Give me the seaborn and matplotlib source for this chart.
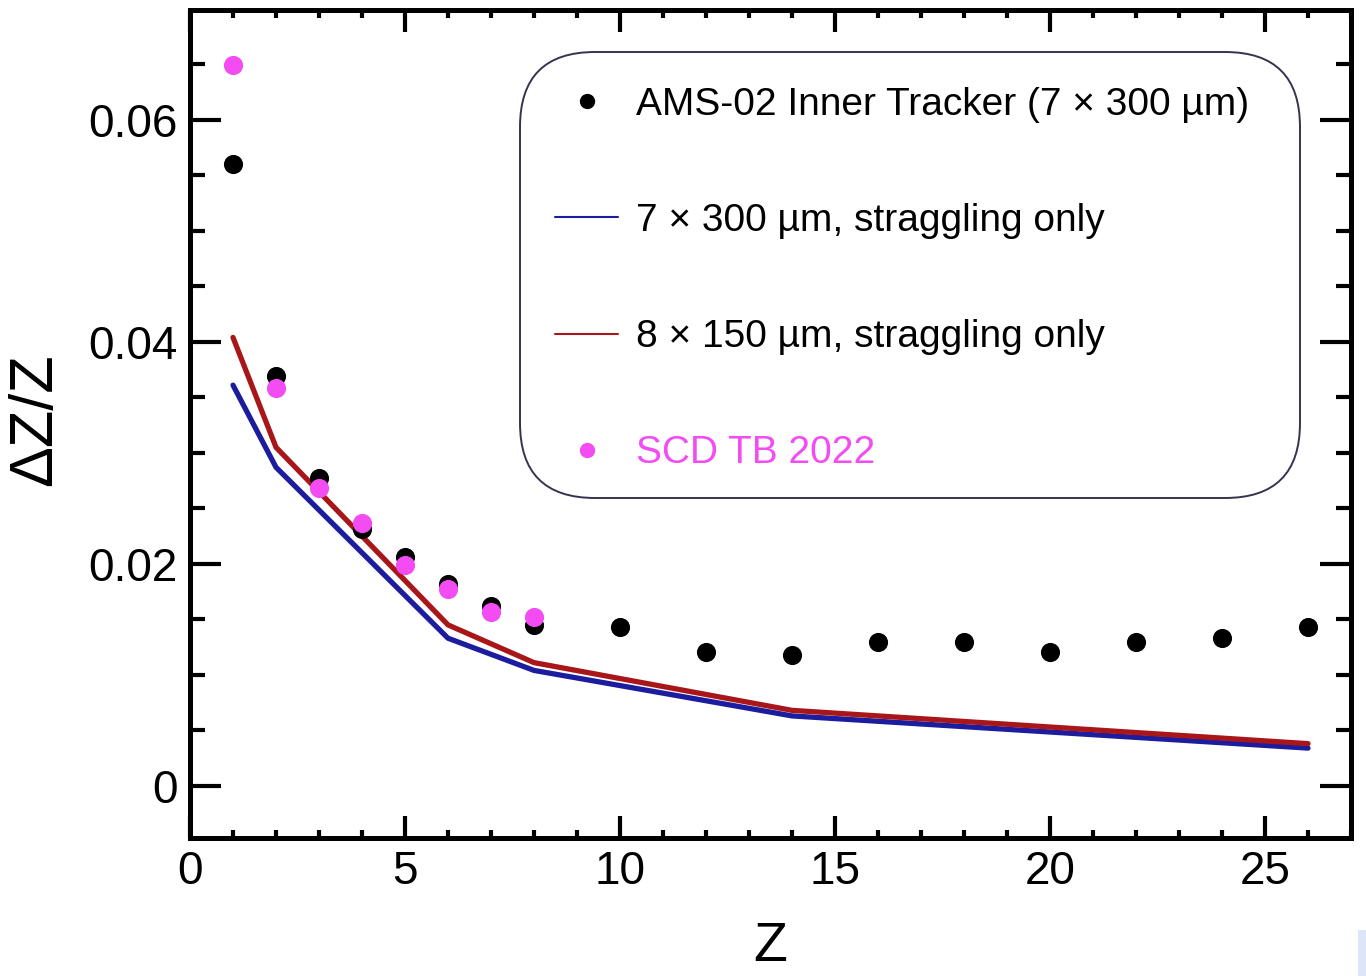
import numpy as np
import pandas as pd
import matplotlib
matplotlib.use("Agg")
import matplotlib.pyplot as plt
import seaborn as sns
from matplotlib.lines import Line2D
from matplotlib.patches import FancyBboxPatch, Rectangle
from matplotlib.transforms import IdentityTransform
from matplotlib.ticker import MultipleLocator, FuncFormatter

# ---- data ----
ams_z = [1, 2, 3, 4, 5, 6, 7, 8, 10, 12, 14, 16, 18, 20, 22, 24, 26]
ams_dz = [0.0560, 0.0369, 0.0277, 0.0231, 0.0206, 0.0182, 0.0162, 0.0145,
          0.0143, 0.0121, 0.0118, 0.0130, 0.0130, 0.0121, 0.0130, 0.0133, 0.0143]

scd_z = [1, 2, 3, 4, 5, 6, 7, 8]
scd_dz = [0.0649, 0.0358, 0.0268, 0.0237, 0.0199, 0.0177, 0.0157, 0.0152]

line_z = [1, 2, 6, 8, 14, 26]
strag_7x300 = [0.0361, 0.0287, 0.0133, 0.0104, 0.0063, 0.0034]
strag_8x150 = [0.0404, 0.0305, 0.0145, 0.0111, 0.0068, 0.0038]

labels = ["AMS-02 Inner Tracker (7 \u00d7 300 \u00b5m)",
          "7 \u00d7 300 \u00b5m, straggling only",
          "8 \u00d7 150 \u00b5m, straggling only",
          "SCD TB 2022"]

BLUE = "#1c1c9e"
RED = "#a8161a"
PINK = "#f24cf2"

sns.set_theme(style="ticks")
plt.rcParams["font.family"] = ["Liberation Sans", "DejaVu Sans"]
plt.rcParams.update({"text.color": "black", "axes.labelcolor": "black",
                     "xtick.color": "black", "ytick.color": "black"})

fig = plt.figure(figsize=(13.66, 9.76), dpi=100)
W, H = 1366, 976
ax = fig.add_axes([190 / W, 138 / H, 1161 / W, 828 / H])

sns.lineplot(x=line_z, y=strag_7x300, ax=ax, color=BLUE, lw=3.8, zorder=2)
sns.lineplot(x=line_z, y=strag_8x150, ax=ax, color=RED, lw=3.8, zorder=2)
sns.scatterplot(x=ams_z, y=ams_dz, ax=ax, color="black", s=190, linewidth=0, zorder=3)
sns.scatterplot(x=scd_z, y=scd_dz, ax=ax, color=PINK, s=190, linewidth=0, zorder=4)

ax.set_xlim(0, 27)
ax.set_ylim(-0.0047, 0.0699)
ax.xaxis.set_major_locator(MultipleLocator(5))
ax.xaxis.set_minor_locator(MultipleLocator(1))
ax.yaxis.set_major_locator(MultipleLocator(0.02))
ax.yaxis.set_minor_locator(MultipleLocator(0.005))
ax.yaxis.set_major_formatter(FuncFormatter(lambda v, p: "0" if abs(v) < 1e-9 else f"{v:.2f}"))

for s in ax.spines.values():
    s.set_linewidth(3.6)
    s.set_color("black")
    s.set_visible(True)

ax.tick_params(which="both", direction="in", top=True, right=True, width=3, color="black")
ax.xaxis.set_tick_params(which="major", length=16, labelsize=33, pad=9)
ax.xaxis.set_tick_params(which="minor", length=6)
ax.yaxis.set_tick_params(which="major", length=22, labelsize=33, pad=9)
ax.yaxis.set_tick_params(which="minor", length=11)

ax.set_xlabel("Z", fontsize=40)
ax.set_ylabel("\u0394Z/Z", fontsize=44)
ax.xaxis.set_label_coords(0.5, -0.1)
ax.yaxis.set_label_coords(-0.108, 0.505)

# legend frame (rounded)
frame = FancyBboxPatch((520, H - 498), 780, 446,
                       boxstyle="round,pad=0,rounding_size=75",
                       transform=IdentityTransform(), facecolor="white",
                       edgecolor="#34344e", lw=1.4, zorder=5, clip_on=False)
ax.add_artist(frame)

handles = [Line2D([], [], ls="none", marker="o", color="black", markersize=10),
           Line2D([], [], color=BLUE, lw=1.5),
           Line2D([], [], color=RED, lw=1.5),
           Line2D([], [], ls="none", marker="o", color=PINK, markersize=10)]
leg = ax.legend(handles, labels, loc="upper left",
                bbox_to_anchor=(555, H - 87), bbox_transform=IdentityTransform(),
                frameon=False, fontsize=28, handlelength=1.63, handletextpad=0.45,
                labelspacing=2.06, borderpad=0, borderaxespad=0)
leg.set_zorder(6)
for t in leg.get_texts():
    t.set_color("black")
leg.get_texts()[3].set_color(PINK)

fig.add_artist(Rectangle((1358 / W, 0), 8 / W, 46 / H, transform=fig.transFigure,
                         facecolor="#dde6f8", edgecolor="none"))

fig.savefig("out.png", dpi=100)
